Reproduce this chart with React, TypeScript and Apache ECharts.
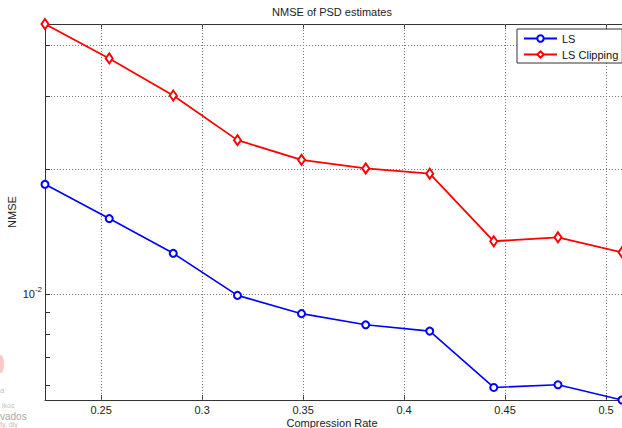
import React, { useEffect, useRef } from "react";
import * as echarts from "echarts";

// Compression rates (x) shared by both curves
const compressionRates = [0.2222, 0.254, 0.2857, 0.3175, 0.3492, 0.381, 0.4127, 0.4444, 0.4762, 0.5079];
// NMSE of the PSD estimate, plain least squares
const lsNmse = [0.01841, 0.01521, 0.01253, 0.00991, 0.00895, 0.00841, 0.00812, 0.00593, 0.00602, 0.00553];
// NMSE of the PSD estimate, least squares with clipping
const lsClippingNmse = [0.045, 0.03714, 0.0302, 0.02355, 0.0211, 0.02011, 0.01953, 0.0134, 0.0137, 0.0126];

// Grid positions (log-scale decades and their minor steps, plus x ticks)
const yGridValues = [0.006, 0.007, 0.008, 0.009, 0.01, 0.02, 0.03, 0.04];
const xGridValues = [0.25, 0.3, 0.35, 0.4, 0.45, 0.5];

const FONT = "'Liberation Sans', Arial, Helvetica, sans-serif";
const AXIS_COLOR = "#333";

export default function App() {
  const ref = useRef<HTMLDivElement>(null);

  useEffect(() => {
    if (!ref.current) return;
    const chart = echarts.init(ref.current, undefined, { renderer: "svg" });

    const xMin = Math.min(...compressionRates);
    const xMax = Math.max(...compressionRates);
    const yMin = Math.min(...lsNmse, ...lsClippingNmse);
    const yMax = Math.max(...lsNmse, ...lsClippingNmse);
    const tickLen = (xMax - xMin) * (5 / 577);

    const gridLines: any[] = [
      ...yGridValues.map((v) => ({ yAxis: v })),
      ...xGridValues.map((v) => ({ xAxis: v })),
    ];
    // short inward ticks on the left axis at each grid level
    const leftTicks: any[] = yGridValues.map((v) => [
      { coord: [xMin, v], lineStyle: { color: AXIS_COLOR, type: "solid", width: 1 } },
      { coord: [xMin + tickLen, v] },
    ]);

    const lsData = compressionRates.map((x, i) => [x, lsNmse[i]]);
    const clipData = compressionRates.map((x, i) => [x, lsClippingNmse[i]]);

    chart.setOption({
      animation: false,
      backgroundColor: "#fff",
      textStyle: { fontFamily: FONT },
      grid: { left: 45, top: 24, right: 0, bottom: 28, containLabel: false },
      xAxis: [
        {
          type: "value",
          min: xMin,
          max: xMax,
          position: "bottom",
          axisLine: { show: true, lineStyle: { color: AXIS_COLOR, width: 1 } },
          axisTick: { show: true, inside: true, length: 5, lineStyle: { color: AXIS_COLOR } },
          axisLabel: {
            showMinLabel: false,
            showMaxLabel: false,
            fontSize: 11,
            color: "#222",
            margin: 4,
            fontFamily: FONT,
          },
          splitLine: { show: false },
        },
        {
          type: "value",
          min: xMin,
          max: xMax,
          position: "top",
          axisLine: { show: true, lineStyle: { color: AXIS_COLOR, width: 1 } },
          axisTick: { show: true, inside: true, length: 5, lineStyle: { color: AXIS_COLOR } },
          axisLabel: { show: false },
          splitLine: { show: false },
        },
      ],
      yAxis: {
        type: "log",
        logBase: 10,
        min: yMin,
        max: yMax,
        axisLine: { show: true, lineStyle: { color: AXIS_COLOR, width: 1 } },
        axisTick: { show: true, inside: true, length: 5, lineStyle: { color: AXIS_COLOR } },
        splitLine: { show: false },
        axisLabel: {
          showMinLabel: false,
          showMaxLabel: false,
          margin: 3,
          formatter: (v: number) =>
            Math.abs(Math.log10(v) + 2) < 1e-6 ? "{b|10}{s|-2}" : "",
          rich: {
            b: { fontSize: 11, color: "#222", fontFamily: FONT },
            s: { fontSize: 8, color: "#222", fontFamily: FONT, padding: [0, 0, 8, 0] },
          },
        },
      },
      legend: {
        data: ["LS", "LS Clipping"],
        orient: "vertical",
        left: 517,
        top: 29,
        padding: [3, 4, 2, 6],
        itemWidth: 33,
        itemHeight: 8,
        itemGap: 3,
        backgroundColor: "#fff",
        borderColor: AXIS_COLOR,
        borderWidth: 1,
        borderRadius: 0,
        textStyle: { fontSize: 11, color: "#111", fontFamily: FONT, lineHeight: 13 },
      },
      graphic: [
        {
          type: "text",
          x: 332,
          y: 12,
          style: {
            text: "NMSE of PSD estimates",
            font: `11px ${FONT}`,
            fill: "#222",
            textAlign: "center",
            textVerticalAlign: "middle",
          },
        },
        {
          type: "text",
          x: 332,
          y: 423,
          style: {
            text: "Compression Rate",
            font: `11px ${FONT}`,
            fill: "#222",
            textAlign: "center",
            textVerticalAlign: "middle",
          },
        },
        {
          type: "text",
          x: 12,
          y: 212,
          rotation: Math.PI / 2,
          style: {
            text: "NMSE",
            font: `11px ${FONT}`,
            fill: "#222",
            textAlign: "center",
            textVerticalAlign: "middle",
          },
        },
        // faint stamp in the lower-left corner
        {
          type: "ellipse",
          shape: { cx: 1, cy: 364, rx: 3, ry: 9 },
          style: { fill: "rgba(235,120,120,0.4)" },
        },
        {
          type: "text",
          x: 0,
          y: 390,
          style: { text: "a", font: `8px ${FONT}`, fill: "#c4c4c4", textVerticalAlign: "middle" },
        },
        {
          type: "text",
          x: 2,
          y: 405,
          style: { text: "ikos", font: `7px ${FONT}`, fill: "#c4c4c4", textVerticalAlign: "middle" },
        },
        {
          type: "text",
          x: 0,
          y: 416,
          style: { text: "vados", font: `10px ${FONT}`, fill: "#aaa", textVerticalAlign: "middle" },
        },
        {
          type: "text",
          x: 0,
          y: 424,
          style: { text: "ty, diy", font: `7px ${FONT}`, fill: "#bbb", textVerticalAlign: "middle" },
        },
      ],
      series: [
        {
          name: "grid",
          type: "line",
          data: [],
          silent: true,
          z: 1,
          markLine: {
            silent: true,
            z: 1,
            symbol: ["none", "none"],
            label: { show: false },
            animation: false,
            lineStyle: { color: "#777", type: [1, 2], width: 1 },
            data: [...gridLines, ...leftTicks],
          },
        },
        {
          name: "LS",
          type: "line",
          data: lsData,
          z: 3,
          symbol: "emptyCircle",
          symbolSize: 7,
          color: "#0000ff",
          lineStyle: { color: "#0000ff", width: 1.6 },
          itemStyle: { color: "#0000ff", borderWidth: 1.4 },
        },
        {
          name: "LS Clipping",
          type: "line",
          data: clipData,
          z: 3,
          symbol: "emptyDiamond",
          symbolSize: [7, 10],
          color: "#ff0000",
          lineStyle: { color: "#ff0000", width: 1.8 },
          itemStyle: { color: "#ff0000", borderWidth: 1.6 },
        },
      ],
    });

    return () => chart.dispose();
  }, []);

  return (
    <div
      ref={ref}
      style={{ position: "fixed", left: 0, top: 0, width: 622, height: 428, background: "#fff" }}
    />
  );
}
